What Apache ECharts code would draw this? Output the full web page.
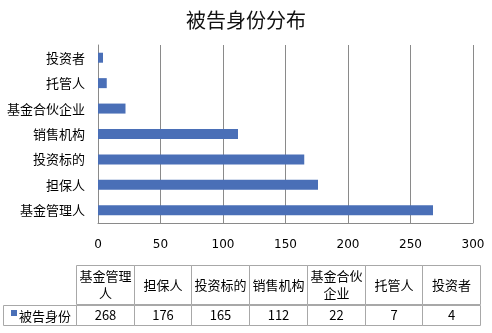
<!DOCTYPE html>
<html><head><meta charset="utf-8">
<script src="https://cdn.jsdelivr.net/npm/echarts@6/dist/echarts.min.js"></script>
<style>html,body{margin:0;padding:0;background:#fff}#c{width:492px;height:333px}</style>
</head><body><div id="c"></div>
<script>
const titleText = '被告身份分布';
const seriesName = '被告身份';
const categories = ['基金管理人','担保人','投资标的','销售机构','基金合伙企业','托管人','投资者'];
const values = [268,176,165,112,22,7,4];
const tableHeaders = ['基金管理\n人','担保人','投资标的','销售机构','基金合伙\n企业','托管人','投资者'];
const xTicks = [0,50,100,150,200,250,300];

const FONT = '"Noto Sans CJK SC", "Liberation Sans", sans-serif';
const BAR = '#4a6fb7';
const LINE = '#8a8a8a';
const CELL = '#a8a8a8';

function cellRender(texts, fontSize) {
  return function (params, api) {
    const i = api.value(0);
    const c = api.coord([i, 1]);
    const c0 = api.coord([i, 0]);
    const w = api.size([1, 0])[0];
    const x0 = Math.round(c[0] - w / 2) + 0.5;
    const x1 = Math.round(c[0] + w / 2) + 0.5;
    const y0 = Math.round(c[1]) + 0.5;
    const y1 = Math.round(c0[1]) - 0.5;
    return {
      type: 'group',
      children: [
        { type: 'rect', shape: { x: x0, y: y0, width: x1 - x0, height: y1 - y0 },
          style: { fill: 'none', stroke: CELL, lineWidth: 1 } },
        { type: 'text', style: { text: String(texts[params.dataIndex]), x: (x0 + x1) / 2, y: (y0 + y1) / 2,
          align: 'center', verticalAlign: 'middle', fontSize: fontSize, fontFamily: FONT, fill: '#000', lineHeight: 17 } }
      ]
    };
  };
}

const chart = echarts.init(document.getElementById('c'), null, { renderer: 'canvas' });
chart.setOption({
  animation: false,
  backgroundColor: '#fff',
  title: { text: titleText, left: 'center', top: 5,
    textStyle: { fontSize: 20, fontWeight: 'normal', color: '#111', fontFamily: FONT } },
  grid: [
    { left: 98, right: 19, top: 45, bottom: 110 },
    { left: 76, right: 12, top: 265, height: 40 },
    { left: 76, right: 12, top: 305, height: 21 }
  ],
  xAxis: [
    { gridIndex: 0, type: 'value', min: xTicks[0], max: xTicks[xTicks.length - 1], interval: 50,
      axisLine: { show: true, lineStyle: { color: LINE } }, axisTick: { show: false },
      axisLabel: { margin: 16, fontSize: 12, color: '#000', fontFamily: '"DejaVu Sans", sans-serif' },
      splitLine: { show: true, lineStyle: { color: LINE, width: 1 } } },
    { gridIndex: 1, type: 'category', data: categories, show: false },
    { gridIndex: 2, type: 'category', data: categories, show: false }
  ],
  yAxis: [
    { gridIndex: 0, type: 'category', data: categories,
      axisLine: { show: true, lineStyle: { color: LINE } }, axisTick: { show: false },
      axisLabel: { margin: 13, fontSize: 13, color: '#000', fontFamily: FONT },
      splitLine: { show: false } },
    { gridIndex: 1, type: 'value', min: 0, max: 1, show: false },
    { gridIndex: 2, type: 'value', min: 0, max: 1, show: false }
  ],
  series: [
    { type: 'bar', name: seriesName, xAxisIndex: 0, yAxisIndex: 0, data: values, barWidth: 10,
      itemStyle: { color: BAR } },
    { type: 'custom', xAxisIndex: 1, yAxisIndex: 1, data: categories.map((c, i) => [i, 1]),
      encode: { x: 0, y: 1 }, renderItem: cellRender(tableHeaders, 13) },
    { type: 'custom', xAxisIndex: 2, yAxisIndex: 2, data: categories.map((c, i) => [i, 1]),
      encode: { x: 0, y: 1 }, renderItem: cellRender(values, 13) }
  ],
  graphic: [
    { type: 'rect', shape: { x: 3.5, y: 305.5, width: 73, height: 20 },
      style: { fill: 'none', stroke: CELL, lineWidth: 1 } },
    { type: 'rect', shape: { x: 11, y: 310, width: 6, height: 6 }, style: { fill: BAR } },
    { type: 'text', style: { text: seriesName, x: 19, y: 316, verticalAlign: 'middle',
      fontSize: 13, fontFamily: FONT, fill: '#000' } }
  ]
});
</script></body></html>
